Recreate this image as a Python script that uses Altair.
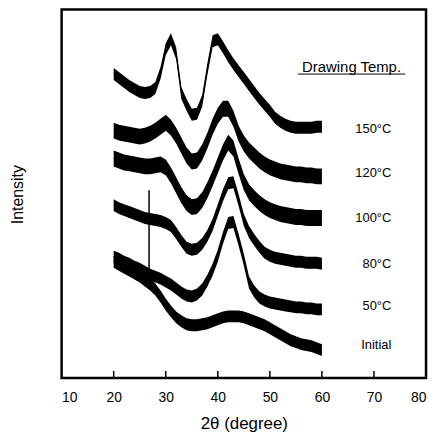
import altair as alt
import pandas as pd

# 2-theta positions (degree)
two_theta = list(range(20, 61))

# Intensity (arbitrary units, offset stacked)
int_150 = [306, 302, 298, 294, 291, 288, 287, 288, 292, 307, 331, 341, 327, 287, 275, 265, 266, 279, 311, 339, 341,
           333, 324, 316, 309, 302, 295, 288, 281, 275, 269, 262, 258, 255, 253, 252, 252, 252, 252, 253, 253]
int_120 = [249, 247, 246, 245, 244, 243, 244, 246, 249, 253, 257, 252, 244, 234, 224, 218, 219, 227, 239, 253, 264,
           271, 271, 261, 246, 236, 229, 224, 219, 215, 212, 210, 208, 207, 206, 205, 205, 204, 204, 203, 203]
int_100 = [221, 219, 217, 216, 215, 214, 213, 213, 214, 215, 212, 204, 194, 184, 176, 172, 173, 179, 189, 201, 214,
           227, 237, 231, 213, 197, 187, 181, 176, 172, 169, 167, 165, 164, 163, 162, 162, 161, 161, 161, 161]
int_80 = [174, 171, 169, 167, 165, 163, 161, 160, 159, 158, 156, 153, 146, 138, 131, 129, 130, 135, 143, 154, 169,
          184, 196, 197, 179, 159, 147, 139, 132, 126, 123, 121, 120, 119, 118, 117, 117, 116, 116, 116, 115]
int_50 = [122, 120, 117, 115, 112, 110, 107, 104, 102, 100, 97, 94, 90, 86, 83, 82, 84, 89, 98, 109, 123,
          141, 156, 157, 139, 119, 96, 87, 81, 78, 76, 75, 74, 73, 72, 71, 71, 70, 70, 69, 69]
int_initial = [117, 114, 111, 108, 105, 102, 98, 94, 89, 82, 74, 67, 61, 57, 54, 53, 53, 54, 55, 57, 59,
               61, 62, 62, 62, 61, 59, 57, 55, 53, 50, 47, 44, 41, 38, 36, 34, 33, 32, 30, 28]

samples = ["150°C", "120°C", "100°C", "80°C", "50°C", "Initial"]
series = [int_150, int_120, int_100, int_80, int_50, int_initial]
noise_half = [6, 8, 8, 6, 6, 6]            # half-thickness of the noisy trace
label_y = [251, 206, 161, 115, 72, 33]     # label heights (intensity units)
x_tick_values = [20, 30, 40, 50, 60, 70]
x_label_values = [10, 20, 30, 40, 50, 60, 70, 80]

# isolated noise spike visible in the traces
spike_angle = [26.8]
spike_low = [109]
spike_high = [189]

rows = []
for s, vals, hw in zip(samples, series, noise_half):
    for a, v in zip(two_theta, vals):
        rows.append({"angle": a, "intensity": v, "sample": s, "hw": hw})
df = pd.DataFrame(rows)

FONT = "Liberation Sans"
xscale = alt.Scale(domain=[10, 80], nice=False, zero=False)
yscale = alt.Scale(domain=[0, 371], nice=False, zero=False)

x_enc = alt.X("angle:Q", scale=xscale,
              axis=alt.Axis(values=x_label_values, title="2θ (degree)", ticks=False, domain=False, grid=False,
                            labelPadding=13, labelFontSize=14, labelFont=FONT, labelColor="black",
                            titleFont=FONT, titleFontSize=17, titleFontWeight="normal", titleColor="black",
                            titlePadding=11))
y_axis = alt.Axis(title="Intensity", labels=False, ticks=False, domain=False, grid=False,
                  titleFont=FONT, titleFontSize=16, titleFontWeight="normal", titleColor="black",
                  titleX=-36, titleY=186)

band = alt.Chart(df).transform_calculate(
    lo="datum.intensity - datum.hw", hi="datum.intensity + datum.hw"
).mark_area(color="black", opacity=1).encode(
    x=x_enc,
    y=alt.Y("lo:Q", scale=yscale, axis=y_axis),
    y2="hi:Q",
    detail="sample:N",
)

line = alt.Chart(df).mark_line(color="black", strokeWidth=1).encode(
    x=alt.X("angle:Q", scale=xscale),
    y=alt.Y("intensity:Q", scale=yscale),
    detail="sample:N",
)

spikes = alt.Chart(pd.DataFrame({"a": spike_angle, "lo": spike_low, "hi": spike_high})).mark_rule(
    color="black", strokeWidth=1.5
).encode(x=alt.X("a:Q", scale=xscale), y=alt.Y("lo:Q", scale=yscale), y2="hi:Q")

labels = alt.Chart(pd.DataFrame({"text": samples, "ly": label_y})).mark_text(
    align="right", baseline="middle", fontSize=13, font=FONT, color="black"
).encode(
    x=alt.value(332),
    y=alt.Y("ly:Q", scale=yscale),
    text="text:N",
)

header = alt.Chart(pd.DataFrame({"t": ["Drawing Temp."]})).mark_text(
    align="center", baseline="middle", fontSize=15, font=FONT, color="black"
).encode(x=alt.value(292), y=alt.value(58), text="t:N")

underline = alt.Chart(pd.DataFrame({"t": [0]})).mark_rule(color="black", strokeWidth=1).encode(
    x=alt.value(238), x2=alt.value(346), y=alt.value(65)
)

ticks = alt.Chart(pd.DataFrame({"t": x_tick_values})).mark_rule(color="black", strokeWidth=1.5).encode(
    x=alt.X("t:Q", scale=xscale), y=alt.value(371), y2=alt.value(364)
)

chart = alt.layer(band, line, spikes, labels, header, underline, ticks).properties(
    width=367, height=371,
    autosize=alt.AutoSizeParams(type="none"),
    padding={"left": 54, "top": 0, "right": 4, "bottom": 60},
).configure_view(stroke="black", strokeWidth=2.5)

chart.save("out.html", embed_options={"renderer": "svg", "actions": False})
